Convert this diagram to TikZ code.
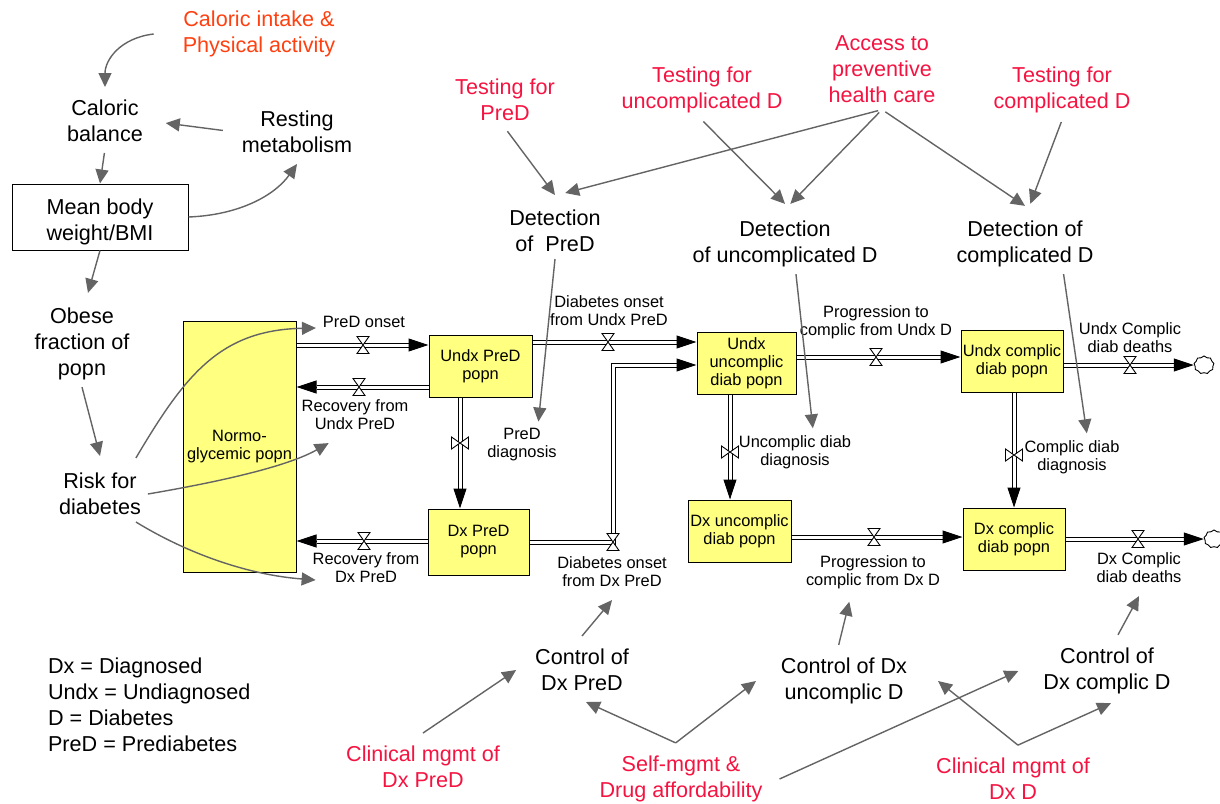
\documentclass[tikz,border=0pt]{standalone}
\usepackage{fontspec}
\setmainfont{Liberation Sans}
\usetikzlibrary{arrows.meta,calc,shapes.symbols}
\definecolor{stockyellow}{RGB}{255,255,128}
\definecolor{infogray}{RGB}{100,100,100}
\definecolor{labred}{RGB}{245,20,65}
\definecolor{laborange}{RGB}{255,64,16}
\begin{document}
\begin{tikzpicture}[x=0.5pt,y=-0.5pt,
  big/.style={font=\fontsize{10.8}{13}\selectfont, align=center},
  small/.style={font=\fontsize{8.2}{9}\selectfont, align=center},
  redlab/.style={big, text=labred},
  stock/.style={draw, line width=0.5pt, fill=stockyellow, small, inner sep=0pt},
  pipe/.style={draw, line width=0.5pt, double=white, double distance=1.5pt, shorten >=10pt},
  ftip/.style={-{Triangle[length=10pt,width=6.5pt]}, line width=0.5pt},
  info/.style={draw=infogray, line width=0.7pt, -{Triangle[length=7pt,width=6.5pt]}},
  valveh/.pic={\draw[fill=white, line width=0.45pt] (-6,-8.5) -- (6,-8.5) -- (-6,8.5) -- (6,8.5) -- cycle;},
  valvev/.pic={\draw[fill=white, line width=0.45pt] (-8.5,-6) -- (-8.5,6) -- (8.5,-6) -- (8.5,6) -- cycle;},
  sink/.style={cloud, draw, cloud puffs=9, cloud puff arc=120, aspect=1.1, minimum width=10pt, minimum height=9pt, inner sep=0pt, line width=0.45pt, fill=white}
]
\fill[white] (0,0) rectangle (1220,803);
\useasboundingbox (0,0) rectangle (1220,803);

% ---------- left causal chain ----------
\node[big, text=laborange] (cintake) at (259,34) {Caloric intake \&\\Physical activity};
\node[big] (calbal) at (105,121) {Caloric\\balance};
\node[big] (rest) at (297,132) {Resting\\metabolism};
\node[draw, line width=0.5pt, minimum width=88pt, minimum height=33pt] (meanbody) at (100,217) {};
\node[big] (meanbodytext) at (100,222) {Mean body\\weight/BMI};
\node[big] (obese) at (82,344) {Obese\\fraction of\\popn};
\node[big] (risk) at (100,494) {Risk for\\diabetes};

% ---------- stocks ----------
\node[stock, minimum width=56.5pt, minimum height=125.5pt] (normo) at (239.5,446.5) {Normo-\\glycemic popn};
\node[stock, minimum width=51.5pt, minimum height=31pt] (upd) at (480.5,366) {Undx PreD\\popn};
\node[stock, minimum width=50.5pt, minimum height=33pt] (dpd) at (478.5,542) {Dx PreD\\popn};
\node[stock, minimum width=49.5pt, minimum height=31pt] (uud) at (746.5,363) {Undx\\uncomplic\\diab popn};
\node[stock, minimum width=51pt, minimum height=31pt] (ucd) at (1012,361) {Undx complic\\diab popn};
\node[stock, minimum width=51.5pt, minimum height=31pt] (dud) at (739.5,531) {Dx uncomplic\\diab popn};
\node[stock, minimum width=51pt, minimum height=31pt] (dcd) at (1014,539) {Dx complic\\diab popn};
\node[sink] (cloud1) at (1204,365) {};
\node[sink] (cloud2) at (1214,539) {};

% ---------- valve positions ----------
\coordinate (v1) at (363,345);
\coordinate (v2) at (359,387);
\coordinate (v3) at (460,443);
\coordinate (v4) at (364,541);
\coordinate (v5) at (608,342);
\coordinate (v6) at (613,542);
\coordinate (c6) at (613,365);
\coordinate (v7) at (876,357);
\coordinate (v8) at (1130,365);
\coordinate (v9) at (730,452);
\coordinate (v10) at (1014,455);
\coordinate (v11) at (874,537);
\coordinate (v12) at (1138,539);

% ---------- flow pipes ----------
\coordinate (f1a) at (normo.east |- v1); \coordinate (f1b) at (upd.west |- v1);
\draw[pipe] (f1a) -- (f1b); \draw[ftip] ($(f1b)+(-20,0)$) -- (f1b);
\coordinate (f2a) at (upd.west |- v2); \coordinate (f2b) at (normo.east |- v2);
\draw[pipe] (f2a) -- (f2b); \draw[ftip] ($(f2b)+(20,0)$) -- (f2b);
\coordinate (f3a) at (upd.south -| v3); \coordinate (f3b) at (dpd.north -| v3);
\draw[pipe] (f3a) -- (f3b); \draw[ftip] ($(f3b)+(0,-20)$) -- (f3b);
\coordinate (f4a) at (dpd.west |- v4); \coordinate (f4b) at (normo.east |- v4);
\draw[pipe] (f4a) -- (f4b); \draw[ftip] ($(f4b)+(20,0)$) -- (f4b);
\coordinate (f5a) at (upd.east |- v5); \coordinate (f5b) at (uud.west |- v5);
\draw[pipe] (f5a) -- (f5b); \draw[ftip] ($(f5b)+(-20,0)$) -- (f5b);
\coordinate (f6a) at (dpd.east |- v6); \coordinate (f6b) at (uud.west |- c6);
\draw[pipe] (f6a) -- (v6) -- (c6) -- (f6b); \draw[ftip] ($(f6b)+(-20,0)$) -- (f6b);
\coordinate (f7a) at (uud.east |- v7); \coordinate (f7b) at (ucd.west |- v7);
\draw[pipe] (f7a) -- (f7b); \draw[ftip] ($(f7b)+(-20,0)$) -- (f7b);
\coordinate (f8a) at (ucd.east |- v8); \coordinate (f8b) at (cloud1.west |- v8);
\draw[pipe] (f8a) -- (f8b); \draw[ftip] ($(f8b)+(-20,0)$) -- (f8b);
\coordinate (f9a) at (uud.south -| v9); \coordinate (f9b) at (dud.north -| v9);
\draw[pipe] (f9a) -- (f9b); \draw[ftip] ($(f9b)+(0,-20)$) -- (f9b);
\coordinate (f10a) at (ucd.south -| v10); \coordinate (f10b) at (dcd.north -| v10);
\draw[pipe] (f10a) -- (f10b); \draw[ftip] ($(f10b)+(0,-20)$) -- (f10b);
\coordinate (f11a) at (dud.east |- v11); \coordinate (f11b) at (dcd.west |- v11);
\draw[pipe] (f11a) -- (f11b); \draw[ftip] ($(f11b)+(-20,0)$) -- (f11b);
\coordinate (f12a) at (dcd.east |- v12); \coordinate (f12b) at (cloud2.west |- v12);
\draw[pipe] (f12a) -- (f12b); \draw[ftip] ($(f12b)+(-20,0)$) -- (f12b);

% ---------- valves ----------
\foreach \v in {v1,v2,v4,v5,v6,v7,v8,v11,v12} { \pic at (\v) {valveh}; }
\foreach \v in {v3,v9,v10} { \pic at (\v) {valvev}; }

% ---------- flow labels ----------
\node[small] (ponset) at (364,322) {PreD onset};
\node[small] (rux) at (355,415) {Recovery from\\Undx PreD};
\node[small] (pdiag) at (522,445) {PreD\\diagnosis};
\node[small] (rdx) at (366,568) {Recovery from\\Dx PreD};
\node[small] (donsetu) at (609,311) {Diabetes onset\\from Undx PreD};
\node[small] (donsetdx) at (612,572) {Diabetes onset\\from Dx PreD};
\node[small] (pundx) at (876,322) {Progression to\\complic from Undx D};
\node[small] (udeaths) at (1130,338) {Undx Complic\\diab deaths};
\node[small] (ucdiag) at (795,452) {Uncomplic diab\\diagnosis};
\node[small] (cdiag) at (1072,457) {Complic diab\\diagnosis};
\node[small] (pdx) at (873,572) {Progression to\\complic from Dx D};
\node[small] (dxdeaths) at (1139,568) {Dx Complic\\diab deaths};

% ---------- detection / control ----------
\node[big] (detpred) at (555,231) {Detection\\of \ PreD};
\node[big] (detunc) at (785,244) {Detection\\of uncomplicated D};
\node[big] (detcomp) at (1025,244) {Detection of\\complicated D};
\node[big] (cdxpred) at (582,670) {Control of\\Dx PreD};
\node[big] (cdxunc) at (844,681) {Control of Dx\\uncomplic D};
\node[big] (cdxcomp) at (1107,671) {Control of\\Dx complic D};

% ---------- policy levers ----------
\node[redlab] (tpred) at (505,100) {Testing for\\PreD};
\node[redlab] (tunc) at (702,90) {Testing for\\uncomplicated D};
\node[redlab] (acc) at (882,69) {Access to\\preventive\\health care};
\node[redlab] (tcomp) at (1062,90) {Testing for\\complicated D};
\node[redlab] (cmpred) at (423,767) {Clinical mgmt of\\Dx PreD};
\node[redlab] (selfm) at (681,779) {Self-mgmt \&\\Drug affordability};
\node[redlab] (cmdx) at (1013,779) {Clinical mgmt of\\Dx D};

% ---------- legend ----------
\node[big, align=left, anchor=west] (legend) at (41,705) {Dx = Diagnosed\\Undx = Undiagnosed\\D = Diabetes\\PreD = Prediabetes};

% ---------- information links ----------
\draw[info] ([xshift=-11pt]cintake.west) .. controls (120,38) and (105,60) .. ([yshift=3pt]calbal.north);
\draw[info, shorten <=6pt, shorten >=8pt] (rest.west) -- (calbal.east);
\draw[info, shorten <=2pt] (calbal.south) -- (meanbody.north);
\draw[info] (meanbody.east) .. controls (240,215) and (275,195) .. ([yshift=-2pt]rest.south);
\draw[info] (meanbody.south) -- ([xshift=3pt,yshift=4pt]obese.north);
\draw[info] (obese.south) -- ([yshift=5pt]risk.north);
\draw[info] ([xshift=-6pt,yshift=4pt]risk.north east) .. controls (185,375) and (220,330) .. ([yshift=-3pt]ponset.west);
\draw[info] (risk.east) .. controls (230,480) and (290,465) .. ([yshift=-3pt]rux.220);
\draw[info] ([xshift=-6pt]risk.south east) .. controls (190,555) and (250,575) .. ([xshift=5pt,yshift=-6pt]rdx.west);

\draw[info, shorten <=2pt] (tpred.south) -- ([yshift=4pt]detpred.north);
\draw[info, shorten <=2pt] (acc.south) -- ([yshift=5pt]detpred.70);
\draw[info, shorten <=1pt] (tunc.south) -- ([yshift=5pt]detunc.north);
\draw[info, shorten <=2pt] (acc.south) -- ([yshift=5pt]detunc.80);
\draw[info, shorten <=2pt] (acc.south) -- ([yshift=4pt]detcomp.north);
\draw[info, shorten <=1pt] (tcomp.south) -- ([yshift=5pt]detcomp.80);

\draw[info] (detpred.south) -- (pdiag.55);
\draw[info] (detunc.-70) -- (ucdiag.53);
\draw[info] (detcomp.-38) -- (cdiag.58);

\draw[info] ([yshift=3pt]cdxpred.north) -- ([yshift=-3pt]donsetdx.south);
\draw[info] ([yshift=3pt]cdxunc.100) -- ([yshift=-3pt]pdx.-135);
\draw[info] ([yshift=3pt]cdxcomp.70) -- ([yshift=-3pt]dxdeaths.south);

\draw[info] ([yshift=3pt]cmpred.north) -- ([xshift=-6pt]cdxpred.west);
\draw[info] ([yshift=3pt]selfm.100) -- ([xshift=2pt,yshift=-2pt]cdxpred.south);
\draw[info] ([yshift=3pt]selfm.100) -- ([xshift=-9pt]cdxunc.west);
\draw[info] ([xshift=5pt]selfm.east) -- ([xshift=-9pt]cdxcomp.west);
\draw[info] ([yshift=3pt]cmdx.80) -- ([xshift=12pt]cdxunc.east);
\draw[info] ([yshift=3pt]cmdx.80) -- ([xshift=2pt,yshift=-1pt]cdxcomp.south);
\end{tikzpicture}
\end{document}
